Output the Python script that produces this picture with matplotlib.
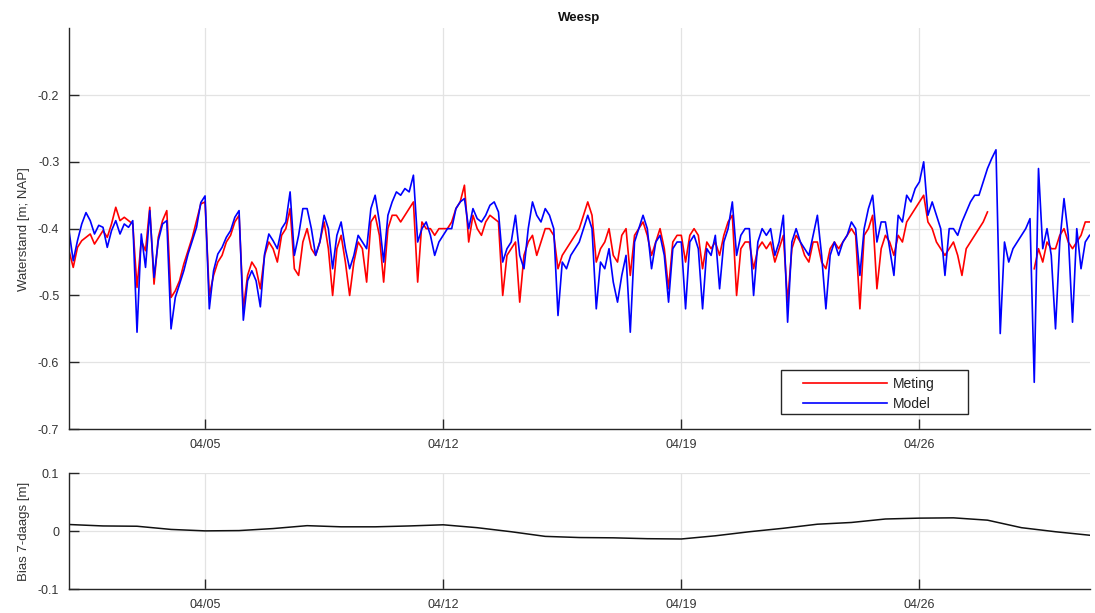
import numpy as np
import pandas as pd
import matplotlib
matplotlib.use("Agg")
import matplotlib.pyplot as plt
import matplotlib.dates as mdates
from matplotlib.patches import Rectangle

plt.rcParams['font.family'] = ['Liberation Sans', 'DejaVu Sans']

nan = np.nan
start = "2016-04-01"

# waterstand, 3-uurs waarden (8 per dag) + eindpunt 05/01
model = [
    -0.403, -0.448, -0.418, -0.393, -0.376, -0.388, -0.408, -0.395,
    -0.398, -0.428, -0.403, -0.388, -0.408, -0.393, -0.398, -0.388,
    -0.555, -0.408, -0.458, -0.373, -0.473, -0.418, -0.393, -0.388,
    -0.550, -0.503, -0.483, -0.463, -0.438, -0.418, -0.398, -0.361,
    -0.351, -0.520, -0.463, -0.438, -0.428, -0.413, -0.403, -0.383,
    -0.373, -0.537, -0.478, -0.463, -0.478, -0.517, -0.438, -0.408,
    -0.418, -0.430, -0.400, -0.390, -0.345, -0.440, -0.410, -0.370,
    -0.370, -0.400, -0.440, -0.420, -0.380, -0.400, -0.460, -0.410,
    -0.390, -0.430, -0.460, -0.440, -0.410, -0.420, -0.430, -0.370,
    -0.350, -0.390, -0.450, -0.380, -0.360, -0.345, -0.350, -0.340,
    -0.345, -0.320, -0.420, -0.400, -0.390, -0.410, -0.440, -0.420,
    -0.410, -0.400, -0.400, -0.370, -0.360, -0.355, -0.400, -0.370,
    -0.385, -0.390, -0.380, -0.365, -0.360, -0.375, -0.450, -0.430,
    -0.420, -0.380, -0.440, -0.460, -0.400, -0.360, -0.380, -0.390,
    -0.370, -0.380, -0.400, -0.530, -0.450, -0.460, -0.440, -0.430,
    -0.420, -0.400, -0.380, -0.400, -0.520, -0.450, -0.460, -0.430,
    -0.480, -0.510, -0.470, -0.440, -0.555, -0.420, -0.400, -0.380,
    -0.400, -0.460, -0.420, -0.410, -0.440, -0.510, -0.430, -0.420,
    -0.420, -0.520, -0.420, -0.410, -0.430, -0.520, -0.430, -0.440,
    -0.410, -0.490, -0.420, -0.400, -0.360, -0.440, -0.410, -0.400,
    -0.400, -0.500, -0.420, -0.400, -0.410, -0.400, -0.440, -0.420,
    -0.380, -0.540, -0.420, -0.400, -0.420, -0.430, -0.440, -0.410,
    -0.380, -0.440, -0.520, -0.440, -0.420, -0.440, -0.420, -0.410,
    -0.390, -0.400, -0.470, -0.400, -0.370, -0.350, -0.420, -0.390,
    -0.390, -0.430, -0.470, -0.380, -0.390, -0.350, -0.360, -0.340,
    -0.330, -0.300, -0.380, -0.360, -0.380, -0.400, -0.470, -0.400,
    -0.400, -0.410, -0.390, -0.375, -0.360, -0.350, -0.350, -0.330,
    -0.310, -0.295, -0.282, -0.557, -0.420, -0.450, -0.430, -0.420,
    -0.410, -0.400, -0.385, -0.630, -0.310, -0.430, -0.400, -0.440,
    -0.550, -0.420, -0.355, -0.410, -0.540, -0.400, -0.460, -0.420,
    -0.410,
]

meting = [
    -0.433, -0.458, -0.428, -0.418, -0.413, -0.408, -0.423, -0.413,
    -0.403, -0.413, -0.393, -0.368, -0.388, -0.383, -0.388, -0.393,
    -0.488, -0.418, -0.433, -0.368, -0.483, -0.413, -0.388, -0.373,
    -0.503, -0.493, -0.478, -0.453, -0.433, -0.413, -0.388, -0.363,
    -0.360, -0.500, -0.470, -0.450, -0.440, -0.420, -0.410, -0.390,
    -0.380, -0.520, -0.470, -0.450, -0.460, -0.490, -0.440, -0.420,
    -0.430, -0.450, -0.410, -0.400, -0.370, -0.460, -0.470, -0.420,
    -0.400, -0.430, -0.440, -0.420, -0.390, -0.430, -0.500, -0.430,
    -0.410, -0.450, -0.500, -0.450, -0.420, -0.430, -0.480, -0.390,
    -0.380, -0.410, -0.480, -0.400, -0.380, -0.380, -0.390, -0.380,
    -0.370, -0.360, -0.480, -0.390, -0.400, -0.400, -0.410, -0.400,
    -0.400, -0.400, -0.390, -0.370, -0.360, -0.335, -0.420, -0.380,
    -0.400, -0.410, -0.390, -0.380, -0.385, -0.390, -0.500, -0.440,
    -0.430, -0.420, -0.510, -0.440, -0.420, -0.410, -0.440, -0.420,
    -0.400, -0.400, -0.410, -0.460, -0.440, -0.430, -0.420, -0.410,
    -0.400, -0.380, -0.360, -0.380, -0.450, -0.430, -0.420, -0.400,
    -0.440, -0.450, -0.410, -0.400, -0.470, -0.410, -0.400, -0.390,
    -0.410, -0.440, -0.420, -0.400, -0.430, -0.490, -0.420, -0.410,
    -0.410, -0.450, -0.410, -0.400, -0.410, -0.460, -0.420, -0.430,
    -0.420, -0.440, -0.410, -0.390, -0.380, -0.500, -0.430, -0.420,
    -0.420, -0.460, -0.430, -0.420, -0.430, -0.420, -0.450, -0.430,
    -0.410, -0.510, -0.430, -0.410, -0.420, -0.440, -0.450, -0.420,
    -0.420, -0.450, -0.460, -0.430, -0.420, -0.430, -0.420, -0.410,
    -0.400, -0.410, -0.520, -0.410, -0.400, -0.380, -0.490, -0.430,
    -0.410, -0.420, -0.440, -0.410, -0.420, -0.390, -0.380, -0.370,
    -0.360, -0.350, -0.390, -0.400, -0.420, -0.430, -0.440, -0.430,
    -0.420, -0.440, -0.470, -0.430, -0.420, -0.410, -0.400, -0.390,
    -0.375, nan, nan, nan, nan, nan, nan, nan,
    nan, nan, nan, -0.460, -0.430, -0.450, -0.420, -0.430,
    -0.430, -0.410, -0.400, -0.420, -0.430, -0.420, -0.410, -0.390,
    -0.390,
]

# 7-daags bias, dagwaarden 04/01 .. 05/01
bias = [
    0.0115, 0.0090, 0.0085, 0.0030, 0.0005, 0.0010, 0.0045, 0.0095,
    0.0075, 0.0075, 0.0090, 0.0110, 0.0060, -0.0010, -0.0090, -0.0110,
    -0.0115, -0.0130, -0.0135, -0.0080, -0.0010, 0.0050, 0.0120, 0.0150,
    0.0210, 0.0225, 0.0230, 0.0190, 0.0060, -0.0010, -0.0070,
]

t_wl = pd.date_range(start, periods=len(model), freq="3h")
t_bias = pd.date_range(start, periods=len(bias), freq="D")

axcol = "#262626"
gridcol = "#e3e3e3"

fig = plt.figure(figsize=(10.95, 6.13), dpi=100)
ax1 = fig.add_axes([0.063, 0.300, 0.932, 0.654])
ax2 = fig.add_axes([0.063, 0.039, 0.932, 0.189])

ax1.plot(t_wl, meting, color="#ff0000", lw=1.2, label="Meting")
ax1.plot(t_wl, model, color="#0000ff", lw=1.2, label="Model")
ax2.plot(t_bias, bias, color="#111111", lw=1.1)

for ax in (ax1, ax2):
    ax.set_xlim(pd.Timestamp("2016-04-01"), pd.Timestamp("2016-05-01"))
    ax.xaxis.set_major_locator(mdates.DayLocator(bymonthday=[5, 12, 19, 26]))
    ax.xaxis.set_major_formatter(mdates.DateFormatter("%m/%d"))
    ax.grid(True, color=gridcol, lw=0.9)
    ax.set_axisbelow(True)
    for s in ("top", "right"):
        ax.spines[s].set_visible(False)
    for s in ("left", "bottom"):
        ax.spines[s].set_color(axcol)
        ax.spines[s].set_linewidth(1.0)
    ax.tick_params(direction="in", length=7.5, width=1.0, color=axcol,
                   labelcolor="#333333", labelsize=9, pad=7)

ax1.set_ylim(-0.7, -0.1)
ax1.set_yticks([-0.7, -0.6, -0.5, -0.4, -0.3, -0.2])
ax1.set_yticklabels(["-0.7", "-0.6", "-0.5", "-0.4", "-0.3", "-0.2"])
ax1.set_ylabel("Waterstand [m; NAP]", fontsize=9.5, color="#333333", labelpad=6)
ax1.set_title("Weesp", fontsize=9.5, fontweight="bold", color="#111111", pad=5)

ax2.set_ylim(-0.1, 0.1)
ax2.set_yticks([-0.1, 0, 0.1])
ax2.set_yticklabels(["-0.1", "0", "0.1"])
ax2.set_ylabel("Bias 7-daags [m]", fontsize=9.5, color="#333333", labelpad=6)

# legendakader, breder dan de tekst
box = Rectangle((0.6974, 0.0374), 0.184, 0.1097, transform=ax1.transAxes,
                facecolor="white", edgecolor=axcol, lw=1.0, zorder=4.5)
ax1.add_patch(box)
leg = ax1.legend(loc="upper left", bbox_to_anchor=(0.719, 0.13), fontsize=10,
                 handlelength=6.1, frameon=False, borderpad=0,
                 labelspacing=0.45, handletextpad=0.4, borderaxespad=0)
for txt in leg.get_texts():
    txt.set_color("#222222")

fig.savefig("out.png", dpi=100)
